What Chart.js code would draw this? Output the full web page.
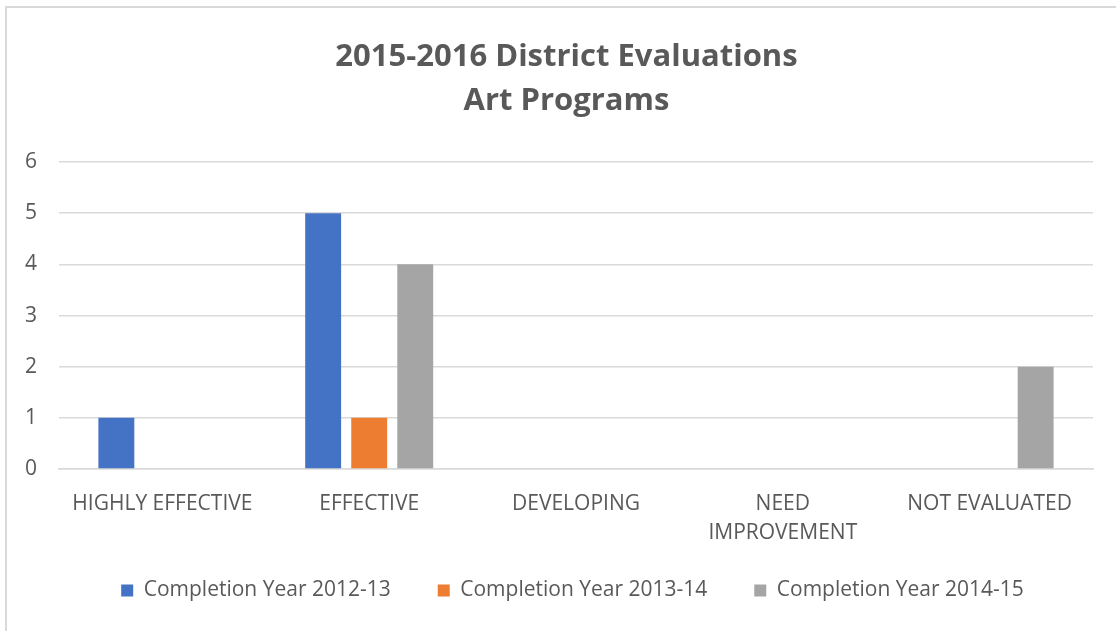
<!DOCTYPE html>
<html><head><meta charset="utf-8">
<script src="https://cdn.jsdelivr.net/npm/chart.js@4.4.0/dist/chart.umd.min.js"></script>
<style>
html,body{margin:0;padding:0;background:#fff;overflow:hidden}
#wrap{position:absolute;left:0;top:0;width:1116px;height:631px}
#frame{position:absolute;left:5px;top:6px;width:1300px;height:900px;border:2.5px solid #d9d9d9;box-sizing:border-box}
canvas{position:absolute;left:0;top:0}
</style></head>
<body><div id="wrap"><div id="frame"></div><canvas id="c" width="1116" height="631"></canvas></div>
<script>
const titleLines = ['2015-2016 District Evaluations', 'Art Programs'];
const categories = ['HIGHLY EFFECTIVE', 'EFFECTIVE', 'DEVELOPING', ['NEED', 'IMPROVEMENT'], 'NOT EVALUATED'];
const seriesNames = ['Completion Year 2012-13', 'Completion Year 2013-14', 'Completion Year 2014-15'];
const year201213 = [1, 5, 0, 0, 0];
const year201314 = [0, 1, 0, 0, 0];
const year201415 = [0, 4, 0, 0, 2];
const yTicks = [0, 1, 2, 3, 4, 5, 6];
const colors = ['#4472C4', '#ED7D31', '#A5A5A5'];

const FONT = '"Open Sans", Lato, sans-serif';
const TXT = '#595959';
Chart.defaults.font.family = FONT;
Chart.defaults.color = TXT;

const mk = (label, data, color) => ({
  label, data, backgroundColor: color, borderWidth: 0,
  categoryPercentage: 0.668, barPercentage: 0.78
});

// shift title and legend horizontally (reference centers them on the full frame)
const shiftPlugin = {
  id: 'shiftBlocks',
  afterLayout(chart) {
    if (chart.titleBlock) { chart.titleBlock.left += 20; chart.titleBlock.right += 20; }
    if (chart.legend) { chart.legend.left += 26; chart.legend.right += 26; }
    const x = chart.scales.x;
    if (x) { x._computeLabelArea = () => undefined; }
  }
};

new Chart(document.getElementById('c'), {
  type: 'bar',
  data: {
    labels: categories,
    datasets: [
      mk(seriesNames[0], year201213, colors[0]),
      mk(seriesNames[1], year201314, colors[1]),
      mk(seriesNames[2], year201415, colors[2])
    ]
  },
  plugins: [shiftPlugin],
  options: {
    responsive: false,
    animation: false,
    layout: { padding: { left: 0, right: 23, top: 35, bottom: 20 } },
    plugins: {
      tooltip: { enabled: false },
      title: {
        display: true, text: titleLines, color: TXT,
        font: { size: 31, weight: 'bold', family: FONT, lineHeight: 1.42 },
        padding: { top: 0, bottom: 39 }
      },
      legend: {
        position: 'bottom',
        labels: {
          boxWidth: 12, boxHeight: 12, padding: 47, color: TXT,
          font: { size: 21, family: FONT }
        }
      }
    },
    scales: {
      x: {
        afterFit: s => { s.height = 64; },
        grid: { display: false, drawTicks: false },
        border: { display: true, color: '#d9d9d9', width: 1.5 },
        ticks: { color: TXT, font: { size: 21, family: FONT, lineHeight: 1.35 }, padding: 21, maxRotation: 0, autoSkip: false }
      },
      y: {
        min: 0, max: 6,
        afterFit: s => { s.width = 59; },
        afterBuildTicks: s => { s.ticks = yTicks.map(v => ({ value: v })); },
        grid: { color: '#d9d9d9', lineWidth: 1.5, drawTicks: false },
        border: { display: false },
        ticks: { color: TXT, font: { size: 21, family: FONT }, padding: 22 }
      }
    }
  }
});
</script></body></html>
